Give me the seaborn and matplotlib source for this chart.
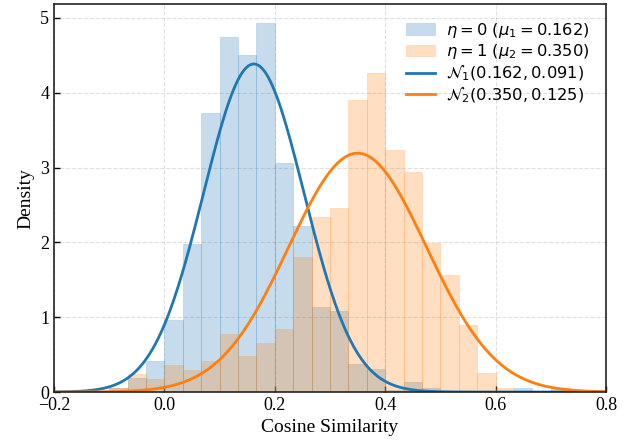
import numpy as np
import pandas as pd
import seaborn as sns
import matplotlib.pyplot as plt
from matplotlib.colors import to_rgba

plt.rcParams['font.family'] = 'Liberation Serif'

# bin edges k/30, k = -3 .. 22
bin_edges = np.arange(-3, 23) / 30
bin_centers = (bin_edges[:-1] + bin_edges[1:]) / 2

# density per bin
dens_eta0 = [0.06, 0.19, 0.42, 0.96, 1.98, 3.73, 4.74, 4.50, 4.93, 3.06,
             2.22, 1.14, 1.08, 0.37, 0.31, 0.03, 0.13, 0.05, 0.0, 0.0,
             0.0, 0.0, 0.05, 0.0, 0.05]
dens_eta1 = [0.06, 0.245, 0.18, 0.36, 0.30, 0.42, 0.78, 0.48, 0.66, 0.84,
             1.80, 2.34, 2.46, 3.90, 4.26, 3.24, 2.94, 1.99, 1.56, 0.90,
             0.25, 0.05, 0.0, 0.0, 0.0]

mu1, sd1 = 0.162, 0.091
mu2, sd2 = 0.350, 0.125

blue = '#1f77b4'
orange = '#ff7f0e'

df = pd.DataFrame({'center': bin_centers, 'eta0': dens_eta0, 'eta1': dens_eta1})

fig = plt.figure(figsize=(6.33, 4.41), dpi=100)
ax = fig.add_axes([0.0853, 0.111, 0.872, 0.879])

# bins passed as list: seaborn 0.13 chokes on an array here
sns.histplot(data=df, x='center', weights='eta0', bins=list(bin_edges), ax=ax,
             color=blue, alpha=0.25, edgecolor=to_rgba(blue, 0.2), linewidth=0.6,
             label=r'$\eta=0$ ($\mu_1=0.162$)')
sns.histplot(data=df, x='center', weights='eta1', bins=list(bin_edges), ax=ax,
             color=orange, alpha=0.25, edgecolor=to_rgba(orange, 0.2), linewidth=0.6,
             label=r'$\eta=1$ ($\mu_2=0.350$)')

xs = np.linspace(-0.2, 0.8, 600)
pdf1 = np.exp(-0.5 * ((xs - mu1) / sd1) ** 2) / (sd1 * np.sqrt(2 * np.pi))
pdf2 = np.exp(-0.5 * ((xs - mu2) / sd2) ** 2) / (sd2 * np.sqrt(2 * np.pi))
sns.lineplot(x=xs, y=pdf1, ax=ax, color=blue, linewidth=2,
             label=r'$\mathcal{N}_1(0.162, 0.091)$')
sns.lineplot(x=xs, y=pdf2, ax=ax, color=orange, linewidth=2,
             label=r'$\mathcal{N}_2(0.350, 0.125)$')

ax.set_xlim(-0.2, 0.8)
ax.set_ylim(0, 5.18)
ax.set_xticks([-0.2, 0.0, 0.2, 0.4, 0.6, 0.8])
ax.set_yticks([0, 1, 2, 3, 4, 5])
ax.grid(True, linestyle='--', color='#cccccc', alpha=0.6, linewidth=0.8)
ax.set_axisbelow(True)
ax.tick_params(direction='in', labelsize=13, length=4, width=1)
for s in ax.spines.values():
    s.set_linewidth(1.2)
    s.set_color('#222222')

ax.set_xlabel('Cosine Similarity', fontsize=14)
ax.set_ylabel('Density', fontsize=14)

handles, labels = ax.get_legend_handles_labels()
order = [r'$\eta=0$ ($\mu_1=0.162$)', r'$\eta=1$ ($\mu_2=0.350$)',
         r'$\mathcal{N}_1(0.162, 0.091)$', r'$\mathcal{N}_2(0.350, 0.125)$']
hmap = dict(zip(labels, handles))
ax.legend([hmap[l] for l in order], order, loc='upper right', frameon=False,
          prop={'family': 'DejaVu Sans', 'size': 11.7},
          labelspacing=0.15, handlelength=1.8, handletextpad=0.7,
          borderaxespad=0.6)

fig.savefig('out.png', dpi=100)
